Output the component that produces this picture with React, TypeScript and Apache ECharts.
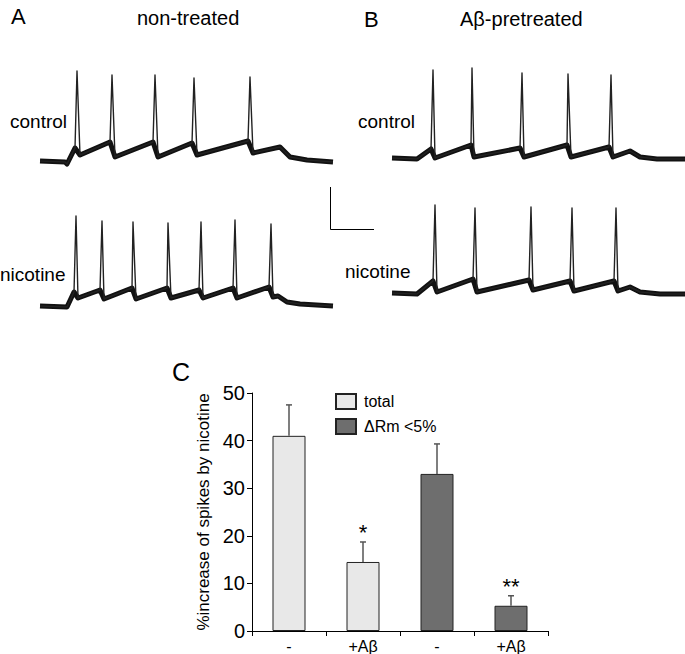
import React, { useEffect, useRef } from "react";
import * as echarts from "echarts";

// Membrane-potential traces: [time (ms), potential (mV)]
const aControl: number[][] = [
  [0, -70], [125, -71], [135, -73], [175, -57], [185, 20], [200, -64],
  [350, -51], [360, 16], [375, -66], [565, -51], [575, 16], [590, -66],
  [760, -52], [770, 13], [785, -64], [1040, -50], [1050, 14], [1065, -62],
  [1200, -56], [1250, -66], [1335, -69], [1465, -71],
];
const aNicotine: number[][] = [
  [0, -70], [135, -71], [170, -56], [180, 20], [190, -62], [300, -54],
  [310, 15], [320, -63], [460, -52], [465, 14], [480, -63], [635, -52],
  [640, 13], [655, -62], [795, -54], [805, 14], [815, -62], [965, -52],
  [975, 16], [985, -62], [1145, -51], [1155, 12], [1165, -61], [1190, -60],
  [1235, -66], [1300, -68], [1465, -70],
];
const bControl: number[][] = [
  [0, -70], [125, -71], [195, -61], [205, 18], [215, -70], [395, -57],
  [400, 20], [410, -69], [640, -60], [650, 15], [660, -69], [875, -57],
  [880, 14], [895, -69], [1085, -59], [1095, 13], [1105, -69], [1190, -63],
  [1240, -69], [1325, -71], [1465, -71],
];
const bNicotine: number[][] = [
  [0, -70], [125, -71], [205, -58], [215, 18], [225, -69], [405, -56],
  [415, 15], [425, -69], [685, -57], [695, 16], [705, -67], [890, -58],
  [900, 15], [910, -68], [1110, -58], [1120, 15], [1130, -68], [1190, -64],
  [1240, -69], [1340, -71], [1465, -71],
];

// Panel C
const barCategories = ["-", "+Aβ", "-", "+Aβ"];
const totalValues = [41, 14.5, null, null];
const rmValues = [null, null, 33, 5.3];
const meanValues = [41, 14.5, 33, 5.3];
const upperErrors = [47.5, 18.7, 39.3, 7.4];
const sigMarks = ["", "*", "", "**"];
const yTicks = [0, 10, 20, 30, 40, 50];

const FONT = "Liberation Sans, Arial, Helvetica, sans-serif";

export default function App() {
  const ref = useRef<HTMLDivElement>(null);
  useEffect(() => {
    if (!ref.current) return;
    const chart = echarts.init(ref.current, undefined, { renderer: "svg" });

    const traceGrids = [
      { left: 40, top: 61 },
      { left: 40, top: 206 },
      { left: 392, top: 58 },
      { left: 392, top: 193 },
    ];
    const traces = [aControl, aNicotine, bControl, bNicotine];

    const grid: any[] = traceGrids.map((g) => ({
      left: g.left, top: g.top, width: 293, height: 110,
    }));
    grid.push({ left: 252, top: 393, width: 296, height: 238 });

    const xAxis: any[] = traceGrids.map((_, i) => ({
      type: "value", gridIndex: i, min: 0, max: 1465, show: false,
    }));
    xAxis.push({
      type: "category",
      gridIndex: 4,
      data: barCategories,
      axisLine: { lineStyle: { color: "#000", width: 1 } },
      axisTick: { show: true, length: 5, lineStyle: { color: "#000" } },
      axisLabel: { color: "#000", fontSize: 16, fontFamily: FONT, margin: 7 },
    });
    const yAxis: any[] = traceGrids.map((_, i) => ({
      type: "value", gridIndex: i, min: -80, max: 30, show: false,
    }));
    yAxis.push({
      type: "value",
      gridIndex: 4,
      min: 0,
      max: 50,
      interval: 10,
      name: "%increase of spikes by nicotine",
      nameLocation: "middle",
      nameGap: 40,
      nameTextStyle: { color: "#000", fontSize: 17, fontFamily: FONT },
      axisLine: { show: true, lineStyle: { color: "#000", width: 1 } },
      axisTick: { show: true, length: 5, lineStyle: { color: "#000" } },
      splitLine: { show: false },
      axisLabel: {
        color: "#000", fontSize: 20, fontFamily: FONT, margin: 7,
        formatter: (v: number) => (yTicks.includes(v) ? String(v) : ""),
      },
    });

    const series: any[] = [];
    traces.forEach((d, i) => {
      // thick noisy-looking band for the subthreshold part
      series.push({
        type: "line",
        xAxisIndex: i,
        yAxisIndex: i,
        data: d.filter((p) => p[1] < -40),
        showSymbol: false,
        symbol: "none",
        lineStyle: { color: "#111", width: 5, join: "round" },
        silent: true,
      });
      // thin full trace with spikes
      series.push({
        type: "line",
        xAxisIndex: i,
        yAxisIndex: i,
        data: d,
        showSymbol: false,
        symbol: "none",
        lineStyle: { color: "#222", width: 1.4, join: "round" },
        silent: true,
      });
    });
    series.push(
      {
        name: "total",
        type: "bar",
        xAxisIndex: 4,
        yAxisIndex: 4,
        data: totalValues,
        barWidth: 33,
        barGap: "-100%",
        itemStyle: { color: "#e8e8e8", borderColor: "#222", borderWidth: 1 },
      },
      {
        name: "ΔRm <5%",
        type: "bar",
        xAxisIndex: 4,
        yAxisIndex: 4,
        data: rmValues,
        barWidth: 33,
        barGap: "-100%",
        itemStyle: { color: "#6e6e6e", borderColor: "#222", borderWidth: 1 },
      },
      {
        type: "custom",
        xAxisIndex: 4,
        yAxisIndex: 4,
        z: 5,
        data: meanValues.map((m, i) => [i, m, upperErrors[i]]),
        encode: { x: 0, y: [1, 2] },
        renderItem: (params: any, api: any) => {
          const i = api.value(0);
          const p0 = api.coord([i, api.value(1)]);
          const p1 = api.coord([i, api.value(2)]);
          const children: any[] = [
            { type: "line", shape: { x1: p0[0], y1: p0[1], x2: p1[0], y2: p1[1] }, style: { stroke: "#555", lineWidth: 1.5 } },
            { type: "line", shape: { x1: p1[0] - 3, y1: p1[1], x2: p1[0] + 3, y2: p1[1] }, style: { stroke: "#555", lineWidth: 1.5 } },
          ];
          const mark = sigMarks[params.dataIndex];
          if (mark) {
            children.push({
              type: "text",
              x: p1[0],
              y: p1[1] + 2,
              style: {
                text: mark, fontSize: 22, fontFamily: FONT, fill: "#000",
                align: "center", verticalAlign: "bottom",
              },
            });
          }
          return { type: "group", children };
        },
      }
    );

    const txt = (text: string, x: number, y: number, size: number) => ({
      type: "text",
      x, y,
      style: { text, fontSize: size, fontFamily: FONT, fill: "#000", align: "left", verticalAlign: "middle" },
    });

    chart.setOption({
      animation: false,
      backgroundColor: "#fff",
      grid,
      xAxis,
      yAxis,
      series,
      legend: {
        data: ["total", "ΔRm <5%"],
        orient: "vertical",
        left: 335,
        top: 393,
        padding: 0,
        itemWidth: 20,
        itemHeight: 15,
        itemGap: 8,
        icon: "rect",
        textStyle: { color: "#000", fontSize: 16, fontFamily: FONT, padding: [0, 0, 0, 3] },
        selectedMode: false,
      },
      graphic: [
        txt("A", 11, 16, 22),
        txt("non-treated", 137, 18, 20),
        txt("B", 364, 19, 22),
        txt("Aβ-pretreated", 460, 19, 20),
        txt("control", 10, 121, 19),
        txt("nicotine", 0, 274, 19),
        txt("control", 358, 121, 19),
        txt("nicotine", 345, 271, 19),
        txt("C", 172, 372, 25),
        { type: "line", shape: { x1: 330.5, y1: 187, x2: 330.5, y2: 229.5 }, style: { stroke: "#000", lineWidth: 1 } },
        { type: "line", shape: { x1: 330.5, y1: 229.5, x2: 374, y2: 229.5 }, style: { stroke: "#000", lineWidth: 1 } },
      ],
    });
    return () => chart.dispose();
  }, []);
  return (
    <div
      ref={ref}
      style={{ position: "absolute", left: 0, top: 0, width: 685, height: 654, background: "#fff" }}
    />
  );
}
